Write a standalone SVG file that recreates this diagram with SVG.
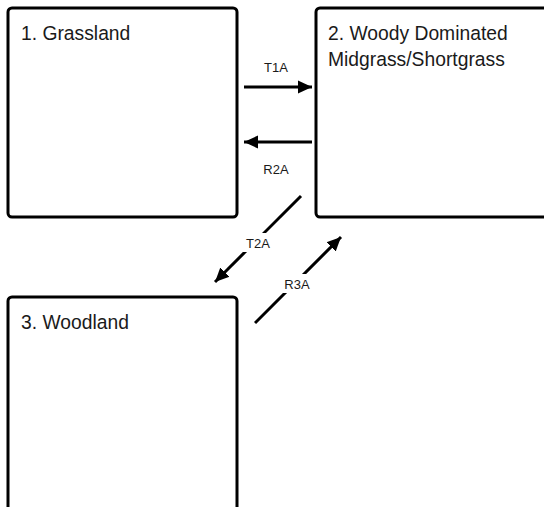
<svg xmlns="http://www.w3.org/2000/svg" width="544" height="507" viewBox="0 0 544 507">
<style>
.box{fill:#fff;stroke:#000;stroke-width:3}
.title{font-family:"Liberation Sans",Arial,sans-serif;font-size:19.3px;fill:#1a1a1a}
.lbl{font-family:"Liberation Sans",Arial,sans-serif;font-size:13px;fill:#1a1a1a;text-anchor:middle}
.conn{stroke:#000;stroke-width:3;fill:none;marker-end:url(#ah)}
.bg{fill:#fff}
</style>
<defs>
<marker id="ah" markerUnits="userSpaceOnUse" markerWidth="15" markerHeight="15" viewBox="0 0 15 15" refX="14" refY="7.5" orient="auto">
<path d="M0,1 L14,7.5 L0,14 Z" fill="#000"/>
</marker>
</defs>
<rect width="544" height="507" fill="#fff"/>
<g id="node1">
<rect class="box" x="8" y="8" width="229" height="209" rx="4"/>
<text class="title" x="21" y="40">1. Grassland</text>
</g>
<g id="node2">
<rect class="box" x="316" y="8" width="240" height="209" rx="4"/>
<text class="title" x="328" y="40">2. Woody Dominated</text>
<text class="title" x="328" y="66">Midgrass/Shortgrass</text>
</g>
<g id="node3">
<rect class="box" x="8" y="297" width="229" height="230" rx="4"/>
<text class="title" x="21" y="329">3. Woodland</text>
</g>
<g id="connectors">
<line class="conn" x1="244" y1="87" x2="312" y2="87"/>
<text class="lbl" x="276" y="72">T1A</text>
<line class="conn" x1="312" y1="142" x2="244" y2="142"/>
<text class="lbl" x="276" y="174">R2A</text>
<line class="conn" x1="301" y1="196" x2="215" y2="282"/>
<rect class="bg" x="243" y="233" width="30" height="19"/>
<text class="lbl" x="258" y="248">T2A</text>
<line class="conn" x1="255" y1="323" x2="341" y2="237"/>
<rect class="bg" x="281" y="274" width="32" height="19"/>
<text class="lbl" x="297" y="289">R3A</text>
</g>
</svg>
